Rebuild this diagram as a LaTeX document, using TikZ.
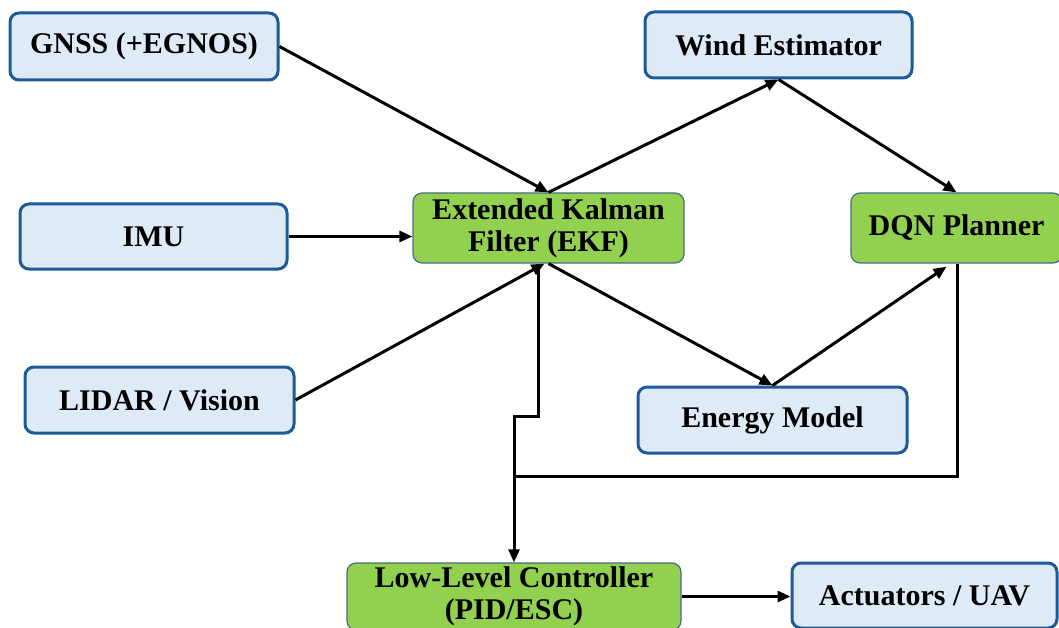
\documentclass[tikz,border=0pt]{standalone}
\usepackage{fontspec}
\setmainfont{Liberation Serif}
\usetikzlibrary{arrows.meta,calc}
\definecolor{bfill}{HTML}{DEEAF6}
\definecolor{bdraw}{HTML}{1C5A99}
\definecolor{gfill}{HTML}{92D050}
\definecolor{gdraw}{HTML}{4A6A82}
\begin{document}
\begin{tikzpicture}[x=1pt,y=-1pt,
  base/.style={rounded corners=9pt, inner sep=0pt, align=center,
    font=\fontsize{30}{32}\selectfont\bfseries},
  bluebox/.style={base, fill=bfill, draw=bdraw, line width=3pt},
  greenbox/.style={base, fill=gfill, draw=gdraw, line width=1.2pt},
  arr/.style={line width=3pt, -{Triangle[length=13pt,width=11pt]}},
  conn/.style={line width=3pt}]
\useasboundingbox (0,0) rectangle (1059,628);
\clip (0,0) rectangle (1059,628);
\node[bluebox, minimum width=268pt, minimum height=67pt] (gnss) at (144,46.5) {GNSS (+EGNOS)};
\node[bluebox, minimum width=267pt, minimum height=65pt] (imu) at (153.5,236.5) {IMU};
\node[bluebox, minimum width=269pt, minimum height=66pt] (lidar) at (159.5,400) {LIDAR / Vision};
\node[greenbox, minimum width=271pt, minimum height=70pt] (ekf) at (548.5,228) {Extended Kalman\\Filter (EKF)};
\node[bluebox, minimum width=267pt, minimum height=66pt] (wind) at (778.5,45) {Wind Estimator};
\node[greenbox, minimum width=211pt, minimum height=70pt] (dqn) at (956.5,228) {DQN Planner};
\node[bluebox, minimum width=269pt, minimum height=66pt] (energy) at (772.5,420) {Energy Model};
\node[greenbox, minimum width=334pt, minimum height=67pt] (llc) at (514,596.5) {Low-Level Controller\\(PID/ESC)};
\node[bluebox, minimum width=265pt, minimum height=65pt] (act) at (924.5,595.5) {Actuators / UAV};

\draw[arr] (gnss.east) -- (ekf.north);
\draw[arr] (imu.east) -- (imu.east -| ekf.west);
\draw[arr] (lidar.east) -- ([xshift=-4pt]ekf.south);
\draw[arr] (ekf.north) -- (wind.south);
\draw[arr] (wind.south) -- (dqn.north);
\draw[arr] (ekf.south) -- (energy.north);
\draw[arr] (energy.north) -- ([xshift=-10pt,yshift=-3pt]dqn.south);
\path (llc.north) ++(0,-86) coordinate (j);
\coordinate (k) at ($(ekf.south)+(-10,0)$);
\draw[conn] (k) -- ++(0,153) -| (j);
\draw[conn] ([xshift=1pt]dqn.south) |- (j);
\draw[arr] (j) -- (llc.north);
\draw[arr] (llc.east) -- (llc.east -| act.west);
\end{tikzpicture}
\end{document}
